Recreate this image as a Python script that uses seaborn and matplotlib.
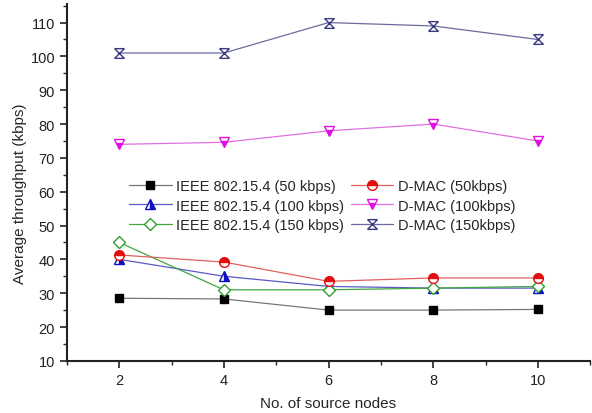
import matplotlib
matplotlib.use("Agg")
import matplotlib.pyplot as plt
import seaborn as sns
import pandas as pd
from matplotlib.path import Path
from matplotlib.ticker import MultipleLocator

nodes = [2, 4, 6, 8, 10]
ieee_50 = [28.5, 28.3, 25.0, 25.0, 25.2]
ieee_100 = [40.0, 35.0, 32.0, 31.5, 31.5]
ieee_150 = [45.0, 31.0, 31.0, 31.5, 32.0]
dmac_50 = [41.3, 39.2, 33.5, 34.5, 34.5]
dmac_100 = [74.0, 74.6, 78.0, 80.0, 75.0]
dmac_150 = [101.0, 101.0, 110.0, 109.0, 105.0]

labels = ["IEEE 802.15.4 (50 kbps)", "IEEE 802.15.4 (100 kbps)", "IEEE 802.15.4 (150 kbps)",
          "D-MAC (50kbps)", "D-MAC (100kbps)", "D-MAC (150kbps)"]
series = [ieee_50, ieee_100, ieee_150, dmac_50, dmac_100, dmac_150]

sns.set_theme(style="ticks")
plt.rcParams['font.family'] = ['Liberation Sans', 'DejaVu Sans']

hourglass = Path([(-1, 1), (1, -1), (1, 1), (-1, -1), (-1, 1), (1, 1), (-1, -1), (1, -1)],
                 [Path.MOVETO, Path.LINETO, Path.MOVETO, Path.LINETO,
                  Path.MOVETO, Path.LINETO, Path.MOVETO, Path.LINETO])

styles = [
    dict(color="#777777", marker="s", mfc="black", mec="black", ms=6),
    dict(color="#5a5ac8", marker="^", mfc="#1010c0", mec="#1010c0", fillstyle="right", mfcalt="white", ms=7),
    dict(color="#40a840", marker="D", mfc="white", mec="#30a030", ms=6),
    dict(color="#e06060", marker="o", mfc="#e01010", mec="#e01010", fillstyle="top", mfcalt="white", ms=7),
    dict(color="#e070e0", marker="v", mfc="#e010e0", mec="#e010e0", fillstyle="bottom", mfcalt="white", ms=7),
    dict(color="#6a6aa0", marker=hourglass, mfc="none", mec="#3a3a80", ms=7),
]

fig = plt.figure(figsize=(5.92, 4.14), dpi=100)
ax = fig.add_axes([0.113, 0.126, 0.884, 0.862])

for lab, vals, st in zip(labels, series, styles):
    df = pd.DataFrame({"x": nodes, "y": vals})
    kw = dict(marker=st["marker"], markerfacecolor=st["mfc"], markeredgecolor=st["mec"],
              markersize=st["ms"], markeredgewidth=1.0)
    if "fillstyle" in st:
        kw["fillstyle"] = st["fillstyle"]
        kw["markerfacecoloralt"] = st["mfcalt"]
    sns.lineplot(data=df, x="x", y="y", ax=ax, color=st["color"], linewidth=0.9, label=lab, **kw)

ax.set_xlim(1, 11)
ax.set_ylim(10, 115.5)
ax.set_xticks([2, 4, 6, 8, 10])
ax.xaxis.set_minor_locator(MultipleLocator(1))
ax.set_yticks(range(10, 111, 10))
ax.yaxis.set_minor_locator(MultipleLocator(5))
ax.tick_params(which="major", length=5, width=1.2, labelsize=10.5, colors="#222222")
ax.tick_params(which="minor", length=3, width=1.0)
for s in ["top", "right"]:
    ax.spines[s].set_visible(False)
for s in ["left", "bottom"]:
    ax.spines[s].set_linewidth(1.5)
    ax.spines[s].set_color("#222222")

ax.set_xlabel("No. of source nodes", fontsize=11, labelpad=7)
ax.set_ylabel("Average throughput (kbps)", fontsize=11)
ax.yaxis.set_label_coords(-0.077, 0.47)

handles, labs = ax.get_legend_handles_labels()
ax.legend(handles, labs, ncol=2, frameon=False, fontsize=10.5,
          loc="center", bbox_to_anchor=(0.488, 0.435), handlelength=2.9,
          handletextpad=0.3, columnspacing=0.5, labelspacing=0.4)

fig.savefig("out.png", dpi=100)
